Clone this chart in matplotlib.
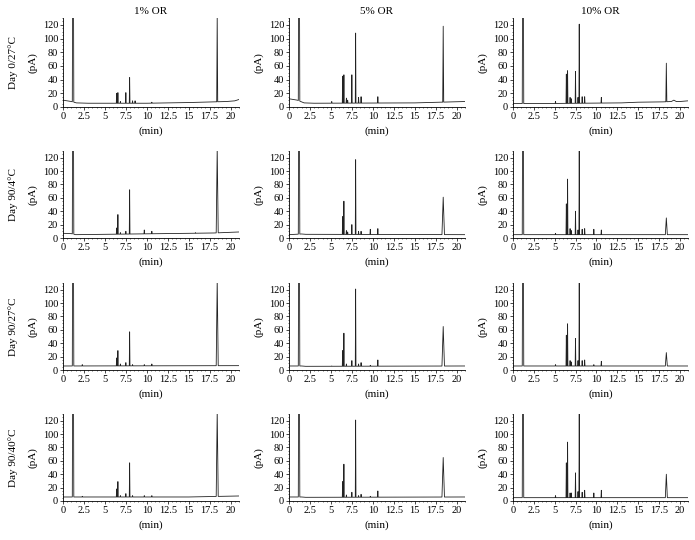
import numpy as np
import matplotlib
matplotlib.use('Agg')
import matplotlib.pyplot as plt
from matplotlib.ticker import MultipleLocator

plt.rcParams['font.family'] = ['Liberation Serif', 'DejaVu Serif']

# retention times of the peaks (min), shared by all panels
rt = [1.2, 2.3, 5.1, 6.4, 6.55, 6.85, 7.0, 7.5, 7.8, 7.95, 8.3, 8.6, 9.7, 10.6, 15.8, 18.4]

# peak heights (pA), 0 = no peak
d0_1   = [400, 0, 0, 20, 21, 8, 0, 21, 0, 43, 9, 9, 0, 7, 0, 135]
d0_5   = [400, 0, 8, 45, 47, 13, 10, 47, 0, 108, 14, 15, 0, 15, 0, 118]
d0_10  = [400, 0, 8, 48, 53, 14, 12, 52, 14, 121, 15, 15, 0, 14, 0, 64]
d4_1   = [400, 0, 0, 15, 35, 8, 0, 10, 0, 72, 0, 0, 12, 10, 8, 135]
d4_5   = [400, 0, 0, 32, 55, 11, 9, 20, 0, 117, 10, 10, 13, 14, 0, 61]
d4_10  = [400, 0, 7, 51, 88, 14, 11, 40, 12, 135, 13, 14, 13, 12, 0, 30]
d27_1  = [400, 8, 0, 18, 29, 9, 0, 11, 0, 57, 8, 0, 8, 9, 0, 135]
d27_5  = [400, 0, 6, 29, 55, 9, 0, 14, 0, 121, 9, 11, 7, 15, 0, 65]
d27_10 = [400, 0, 8, 52, 69, 14, 12, 47, 14, 135, 14, 15, 8, 13, 0, 26]
d40_1  = [400, 7, 0, 18, 29, 8, 0, 11, 0, 57, 8, 0, 8, 8, 0, 135]
d40_5  = [400, 0, 0, 29, 55, 9, 0, 13, 0, 121, 8, 10, 7, 15, 0, 65]
d40_10 = [400, 0, 8, 57, 88, 12, 12, 42, 14, 135, 13, 16, 12, 16, 0, 40]

# baselines: (times, levels)
b0_1   = ([0, 1.0, 1.6, 3, 10, 15, 18, 19.5, 20.5, 21], [10, 8, 6, 5.5, 5.5, 6.5, 7.5, 8, 9, 11])
b0_5   = ([0, 1.0, 1.8, 3, 15, 18, 21], [12, 10, 6, 5.5, 6, 7, 8])
b0_10  = ([0, 1.5, 3, 13, 15, 18, 19, 19.3, 19.6, 20, 21], [5, 5, 5, 6, 7, 7.5, 8, 10, 8, 8, 9])
b4_1   = ([0, 1.0, 1.5, 5, 15, 18, 21], [7, 6.5, 5, 5.5, 7, 7.5, 9])
b4_5   = ([0, 1.5, 2, 21], [5, 6, 5.5, 5])
b4_10  = ([0, 21], [5, 5])
b27_1  = ([0, 21], [6, 6.5])
b27_5  = ([0, 1.5, 2, 21], [6, 6, 5.5, 6])
b27_10 = ([0, 21], [6, 6])
b40_1  = ([0, 15, 21], [6, 6, 7.5])
b40_5  = ([0, 1.5, 2, 21], [6, 6, 5.5, 6])
b40_10 = ([0, 21], [5, 5])

col_titles = ['1% OR', '5% OR', '10% OR']
row_titles = ['Day 0/27°C', 'Day 90/4°C', 'Day 90/27°C', 'Day 90/40°C']

heights = [[d0_1, d0_5, d0_10], [d4_1, d4_5, d4_10],
           [d27_1, d27_5, d27_10], [d40_1, d40_5, d40_10]]
bases = [[b0_1, b0_5, b0_10], [b4_1, b4_5, b4_10],
         [b27_1, b27_5, b27_10], [b40_1, b40_5, b40_10]]


def trace(base, h, wide):
	bt, by = base
	xs = list(bt)
	ys = list(by)
	for t, v in zip(rt, h):
		if v <= 0:
			continue
		w = 0.04
		if t == 1.2:
			w = 0.09
		if t == 18.4:
			w = wide
		b0 = np.interp(t - w, bt, by)
		b1 = np.interp(t + w, bt, by)
		xs += [t - w, t, t + w]
		ys += [b0, v, b1]
	order = np.argsort(xs, kind='stable')
	return np.array(xs)[order], np.array(ys)[order]


fig = plt.figure(figsize=(6.95, 5.40), dpi=100)
lefts = [63, 289, 513]
rights = [239, 465, 688]
tops = [18, 151, 283, 414]
bots = [107, 238, 370, 501]
wides = [[0.06, 0.06, 0.06], [0.12, 0.15, 0.12], [0.12, 0.15, 0.12], [0.12, 0.15, 0.12]]

for i in range(4):
	for j in range(3):
		ax = fig.add_axes([lefts[j] / 695, 1 - bots[i] / 540,
		                   (rights[j] - lefts[j]) / 695, (bots[i] - tops[i]) / 540])
		x, y = trace(bases[i][j], heights[i][j], wides[i][j])
		ax.plot(x, y, color='#222222', lw=0.6)
		ax.set_xlim(0, 21)
		ax.set_ylim(0, 130)
		ax.xaxis.set_minor_locator(MultipleLocator(0.5))
		ax.yaxis.set_major_locator(MultipleLocator(20))
		ax.yaxis.set_minor_locator(MultipleLocator(5))
		ax.set_xticks([0, 2.5, 5, 7.5, 10, 12.5, 15, 17.5, 20])
		ax.set_xticklabels(['0', '2.5', '5', '7.5', '10', '12.5', '15', '17.5', '20'])
		ax.tick_params(labelsize=7.5, length=2, width=0.5, pad=1.5)
		ax.tick_params(which='minor', length=1, width=0.4)
		for s in ['top', 'right']:
			ax.spines[s].set_visible(False)
		for s in ['left', 'bottom']:
			ax.spines[s].set_linewidth(0.6)
		ax.set_xlabel('(min)', fontsize=8, labelpad=4)
		ax.set_ylabel('(pA)', fontsize=8, labelpad=4)
		if i == 0:
			ax.set_title(col_titles[j], fontsize=8, pad=3)
		if j == 0:
			fig.text(13 / 695, 1 - (tops[i] + bots[i]) / 2 / 540, row_titles[i],
			         rotation=90, ha='center', va='center', fontsize=8)

plt.savefig('out.png', dpi=100)
